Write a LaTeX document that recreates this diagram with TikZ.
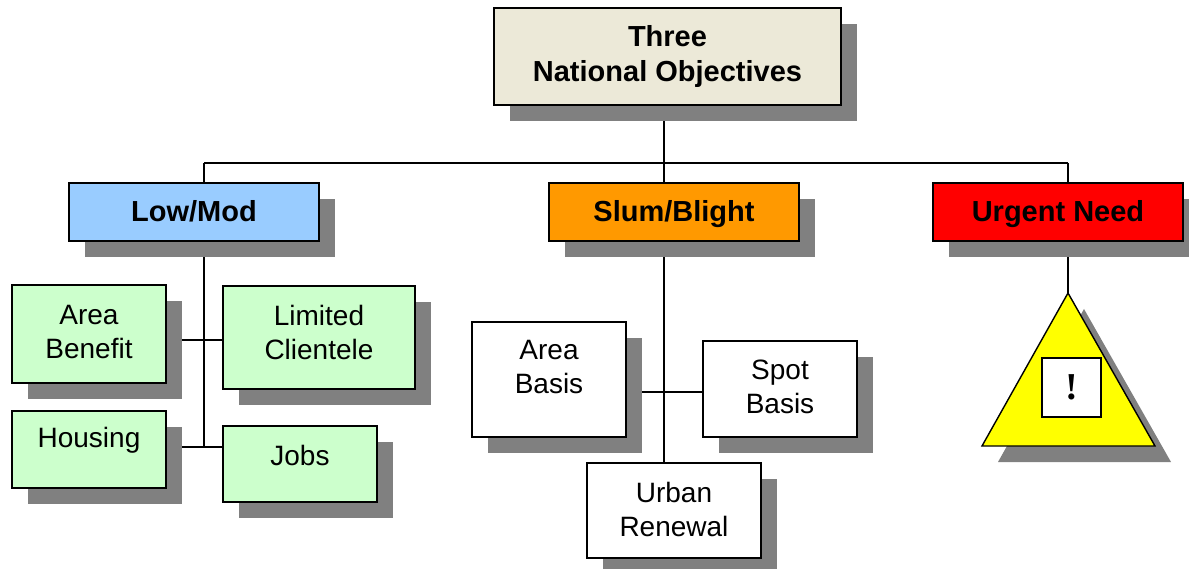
\documentclass[tikz,border=0pt]{standalone}
\usepackage{fontspec}
\setmainfont{Liberation Sans}
\newfontfamily\exclfont{Liberation Serif}
\usetikzlibrary{shadows,backgrounds}
\definecolor{topfill}{HTML}{ECE9D8}
\definecolor{lowblue}{HTML}{99CCFF}
\definecolor{slumorange}{HTML}{FF9900}
\definecolor{urgentred}{HTML}{FF0000}
\definecolor{subgreen}{HTML}{CCFFCC}
\definecolor{warnyellow}{HTML}{FFFF00}
\definecolor{shadowgray}{HTML}{808080}
\tikzset{
  shad/.style={drop shadow={shadow xshift=16pt,shadow yshift=-16pt,fill=shadowgray,opacity=1}},
  boxbase/.style={draw=black, line width=1.4pt, rectangle, inner sep=0pt, outer sep=0pt, anchor=north west, shad},
  head/.style={boxbase, minimum width=250pt, minimum height=58pt, font=\bfseries\fontsize{29}{35}\selectfont, text height=21pt, text depth=1pt},
  subbox/.style={boxbase, fill=subgreen},
  plainbox/.style={boxbase, fill=white},
  subtxt/.style={anchor=north, inner sep=0pt, align=center, font=\fontsize{28}{34}\selectfont},
  link/.style={draw=black, line width=1.4pt}
}
\begin{document}
\begin{tikzpicture}[x=1pt,y=-1pt]
\useasboundingbox (0,0) rectangle (1189,569);

% top
\node[boxbase, fill=topfill, minimum width=347pt, minimum height=97pt, align=center,
      font=\bfseries\fontsize{29}{35}\selectfont] (top) at (494,8) {Three\\National Objectives};

% headers
\node[head, fill=lowblue] (lowmod) at (69,183) {Low/Mod};
\node[head, fill=slumorange] (slum) at (549,183) {Slum/Blight};
\node[head, fill=urgentred] (urgent) at (933,183) {Urgent Need};

% Low/Mod children
\node[subbox, minimum width=154pt, minimum height=98pt] (areaben) at (12,285) {};
\node[subtxt] (areabentxt) at ([yshift=-20pt]areaben.north) {Area\\Benefit};
\node[subbox, minimum width=192pt, minimum height=103pt] (limited) at (223,286) {};
\node[subtxt] (limitedtxt) at ([yshift=-19pt]limited.north) {Limited\\Clientele};
\node[subbox, minimum width=154pt, minimum height=77pt] (housing) at (12,411) {};
\node[subtxt] (housingtxt) at ([yshift=-16pt]housing.north) {Housing};
\node[subbox, minimum width=154pt, minimum height=76pt] (jobs) at (223,426) {};
\node[subtxt] (jobstxt) at ([yshift=-19pt]jobs.north) {Jobs};

% Slum/Blight children
\node[plainbox, minimum width=154pt, minimum height=115pt] (areabasis) at (472,322) {};
\node[subtxt] (areabasistxt) at ([yshift=-18pt]areabasis.north) {Area\\Basis};
\node[plainbox, minimum width=154pt, minimum height=96pt] (spot) at (703,341) {};
\node[subtxt] (spottxt) at ([yshift=-19pt]spot.north) {Spot\\Basis};
\node[plainbox, minimum width=174pt, minimum height=95pt] (urban) at (587,463) {};
\node[subtxt] (urbantxt) at ([yshift=-19pt]urban.north) {Urban\\Renewal};

% warning triangle
\coordinate (apex) at (1068,293);
\fill[shadowgray] (1084,309) -- (998,462) -- (1171,462) -- cycle;
\draw[fill=warnyellow, line width=1.4pt, line join=miter] (apex) -- (982,446) -- (1155,446) -- cycle;
\node[draw=black, fill=white, line width=1.4pt, minimum width=59pt, minimum height=59pt, inner sep=0pt, outer sep=0pt, anchor=north west] (warnbox) at (1042,358) {};
\node[inner sep=0pt, font=\exclfont\bfseries\fontsize{38}{40}\selectfont] (excl) at (warnbox.center) {!};

% connectors
\begin{scope}[on background layer]
  \coordinate (branch) at (664,163);
  \coordinate (lbranch) at (204,163);
  \coordinate (rbranch) at (1068,163);
  \coordinate (lj1) at (204,340);
  \coordinate (lj2) at (204,447);
  \coordinate (sj) at (664,392);
  \draw[link] (top.south -| branch) -- (branch);
  \draw[link] (lbranch) -- (rbranch);
  \draw[link] (lbranch) -- (lbranch |- lowmod.north);
  \draw[link] (branch) -- (branch |- slum.north);
  \draw[link] (rbranch) -- (rbranch |- urgent.north);
  \draw[link] (lbranch |- lowmod.south) -- (lj2);
  \draw[link] (areaben.east |- lj1) -- (limited.west |- lj1);
  \draw[link] (housing.east |- lj2) -- (jobs.west |- lj2);
  \draw[link] (branch |- slum.south) -- (branch |- urban.north);
  \draw[link] (areabasis.east |- sj) -- (spot.west |- sj);
  \draw[link] (rbranch |- urgent.south) -- (apex);
\end{scope}
\end{tikzpicture}
\end{document}
